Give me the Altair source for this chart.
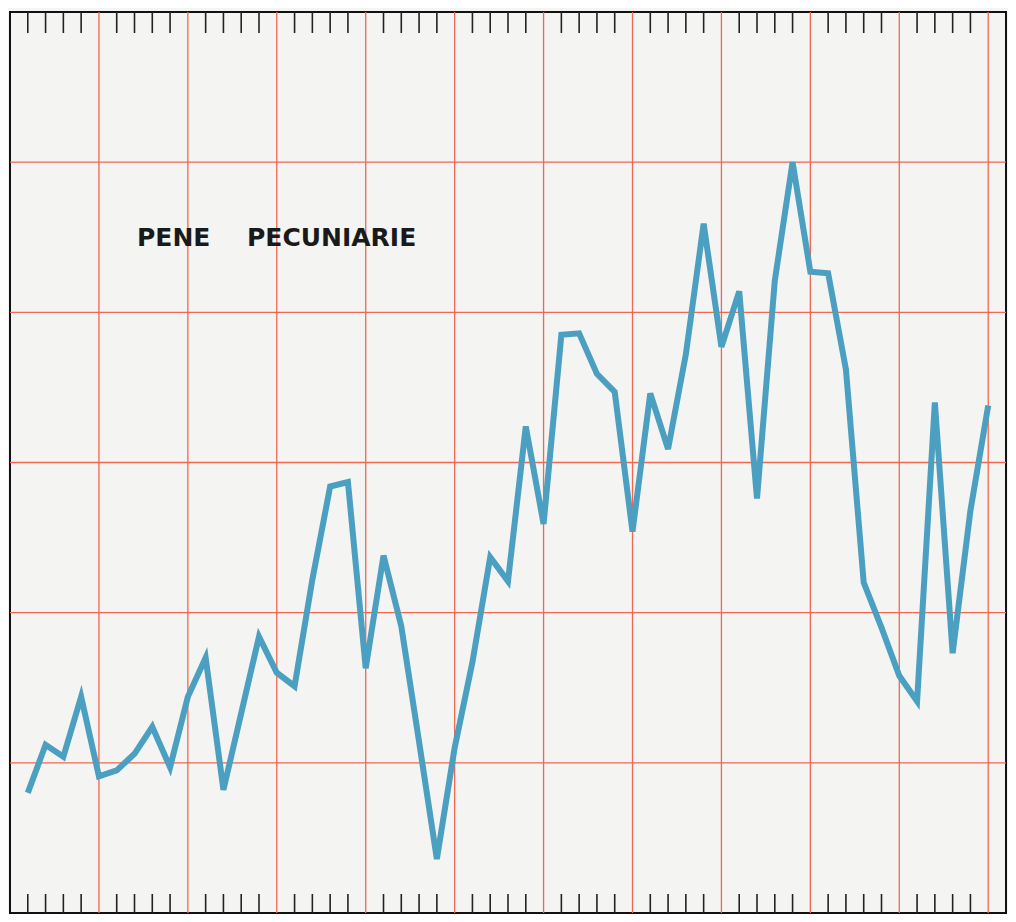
import altair as alt
import pandas as pd

# ---- data ----
years = list(range(1, 56))
values = [0.80, 1.12, 1.04, 1.44, 0.91, 0.95, 1.06, 1.24, 0.97, 1.44,
          1.70, 0.82, 1.33, 1.84, 1.60, 1.51, 2.22, 2.84, 2.87, 1.63,
          2.38, 1.91, 1.14, 0.36, 1.10, 1.67, 2.37, 2.21, 3.24, 2.59,
          3.85, 3.86, 3.59, 3.47, 2.54, 3.46, 3.09, 3.72, 4.59, 3.77,
          4.14, 2.76, 4.21, 5.00, 4.27, 4.26, 3.62, 2.20, 1.90, 1.58,
          1.41, 3.40, 1.73, 2.68, 3.38]
grid_years = [5, 10, 15, 20, 25, 30, 35, 40, 45, 50, 55]
grid_levels = [1, 2, 3, 4, 5]
tick_years = [n for n in range(1, 56) if n % 5 != 0]
title_words = ["PENE", "PECUNIARIE"]

W, H = 996, 901
RED = "#f2674f"
BLUE = "#4b9fc0"

xs = alt.Scale(domain=[0, 56], nice=False, zero=False)
ys = alt.Scale(domain=[0, 6], nice=False, zero=False)

series = pd.DataFrame({"year": years, "value": values})
gx = pd.DataFrame({"year": grid_years})
gy = pd.DataFrame({"level": grid_levels})
tk = pd.DataFrame({"year": tick_years})

vgrid = alt.Chart(gx).mark_rule(color=RED, strokeWidth=1.3).encode(
    x=alt.X("year:Q", scale=xs, axis=None),
    y=alt.value(0), y2=alt.value(H))
hgrid = alt.Chart(gy).mark_rule(color=RED, strokeWidth=1.3).encode(
    y=alt.Y("level:Q", scale=ys, axis=None),
    x=alt.value(0), x2=alt.value(W))
top_ticks = alt.Chart(tk).mark_rule(color="#222222", strokeWidth=1.6).encode(
    x=alt.X("year:Q", scale=xs, axis=None),
    y=alt.value(0), y2=alt.value(21))
bottom_ticks = alt.Chart(tk).mark_rule(color="#222222", strokeWidth=1.6).encode(
    x=alt.X("year:Q", scale=xs, axis=None),
    y=alt.value(H - 19), y2=alt.value(H))
line = alt.Chart(series).mark_line(color=BLUE, strokeWidth=6, strokeJoin="miter",
                                   strokeCap="butt").encode(
    x=alt.X("year:Q", scale=xs, axis=None),
    y=alt.Y("value:Q", scale=ys, axis=None))
word1 = alt.Chart(pd.DataFrame({"t": [title_words[0]]})).mark_text(
    align="left", baseline="alphabetic", font="DejaVu Sans", fontSize=25,
    fontWeight="bold", color="#1a1a1a").encode(
    text="t:N", x=alt.value(127), y=alt.value(234))
word2 = alt.Chart(pd.DataFrame({"t": [title_words[1]]})).mark_text(
    align="left", baseline="alphabetic", font="DejaVu Sans", fontSize=25,
    fontWeight="bold", color="#1a1a1a").encode(
    text="t:N", x=alt.value(237), y=alt.value(234))

chart = alt.layer(vgrid, hgrid, top_ticks, bottom_ticks, line, word1, word2).properties(
    width=W, height=H,
    autosize=alt.AutoSizeParams(type="none"),
    padding={"left": 2, "top": 4, "right": 2, "bottom": 1},
    background="#f4f4f2",
).configure_view(stroke="#111111", strokeWidth=2)

chart.save("out.html", embed_options={"renderer": "svg", "actions": False})
